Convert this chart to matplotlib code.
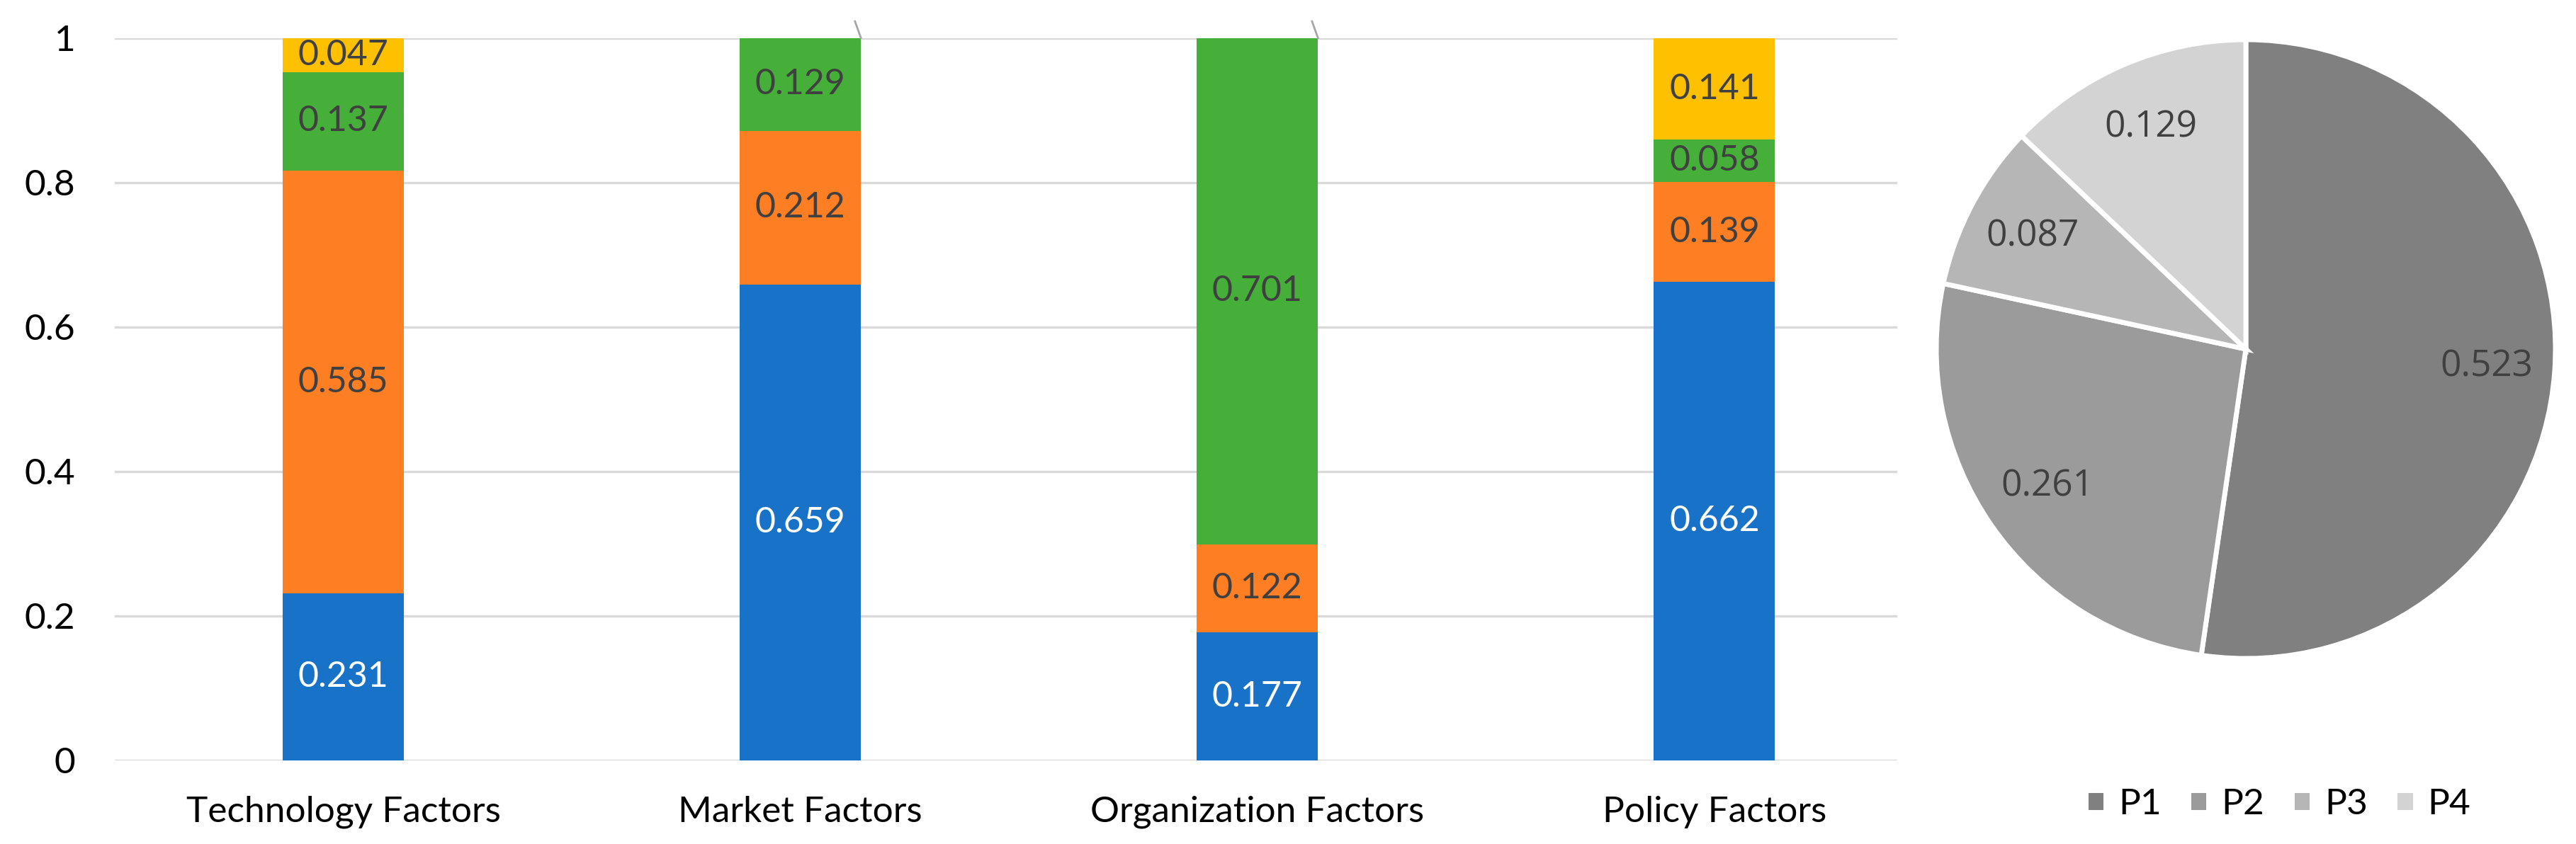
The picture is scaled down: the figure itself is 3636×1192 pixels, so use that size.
import matplotlib.pyplot as plt
import numpy as np

categories = ["Technology Factors", "Market Factors", "Organization Factors", "Policy Factors"]
blue_vals = [0.231, 0.659, 0.177, 0.662]
orange_vals = [0.585, 0.212, 0.122, 0.139]
green_vals = [0.137, 0.129, 0.701, 0.058]
yellow_vals = [0.047, 0.0, 0.0, 0.141]

pie_labels = ["P1", "P2", "P3", "P4"]
pie_vals = [0.523, 0.261, 0.087, 0.129]

y_ticks = [0, 0.2, 0.4, 0.6, 0.8, 1]
y_tick_labels = ["0", "0.2", "0.4", "0.6", "0.8", "1"]

W, H = 3636, 1192
fig = plt.figure(figsize=(W / 100, H / 100), dpi=100)

# stacked bar chart
ax = fig.add_axes([162 / W, 1 - 1074 / H, (2678 - 162) / W, (1074 - 53.6) / H])

series = [
    (blue_vals, "#1772C8", "white"),
    (orange_vals, "#FD7E23", "#404040"),
    (green_vals, "#45AF3A", "#404040"),
    (yellow_vals, "#FFC000", "#404040"),
]
x = np.arange(len(categories))
width = 0.265
bottom = np.zeros(len(categories))
for vals, color, tcolor in series:
    vals = np.array(vals)
    ax.bar(x, vals, width, bottom=bottom, color=color, zorder=3)
    for i, v in enumerate(vals):
        if v > 0:
            ax.text(x[i], bottom[i] + v / 2, f"{v:.3f}", ha="center", va="center",
                    color=tcolor, fontsize=36, family="Lato", zorder=4)
        else:
            # leader line of a zero label
            ax.plot([x[i] + width / 2, x[i] + width / 2 - 0.013], [bottom[i], bottom[i] + 0.023],
                    color="#a6a6a6", lw=2, clip_on=False, zorder=4)
    bottom += vals

ax.set_xlim(-0.5, 3.4)
ax.set_ylim(0, 1)
ax.set_yticks(y_ticks)
ax.set_yticklabels(y_tick_labels, fontsize=37, family="Lato")
ax.set_xticks(x)
ax.set_xticklabels(categories, fontsize=37, family="Lato")
ax.tick_params(axis="y", length=0, pad=40)
ax.tick_params(axis="x", length=0, pad=36)
ax.grid(axis="y", color="#d9d9d9", lw=2.4, zorder=0)
for s in ax.spines.values():
    s.set_visible(False)

# pie chart
cx, cy, r = 3170, 493, 437
lim = 1.1
pw = 2 * lim * r
pax = fig.add_axes([(cx - pw / 2) / W, 1 - (cy + pw / 2) / H, pw / W, pw / H])
pie_colors = ["#808080", "#9b9b9b", "#b6b6b6", "#d3d3d3"]
wedges, texts, autotexts = pax.pie(
    pie_vals, colors=pie_colors, startangle=90, counterclock=False,
    autopct=lambda p: f"{p / 100:.3f}", pctdistance=0.78,
    wedgeprops={"edgecolor": "white", "linewidth": 5},
    textprops={"fontsize": 37, "family": "Open Sans", "color": "#404040"},
)
pax.set_xlim(-lim, lim)
pax.set_ylim(-lim, lim)
pax.set_aspect("equal")
pax.axis("off")

fig.legend(wedges, pie_labels, loc="center left", bbox_to_anchor=(2918 / W, 1 - 1136 / H),
           ncol=4, frameon=False, borderpad=0, handlelength=0.55, handleheight=0.55,
           handletextpad=0.35, columnspacing=0.75,
           prop={"family": "Lato", "size": 37}, labelcolor="black")

fig.savefig("out.png", dpi=100, facecolor="white")
